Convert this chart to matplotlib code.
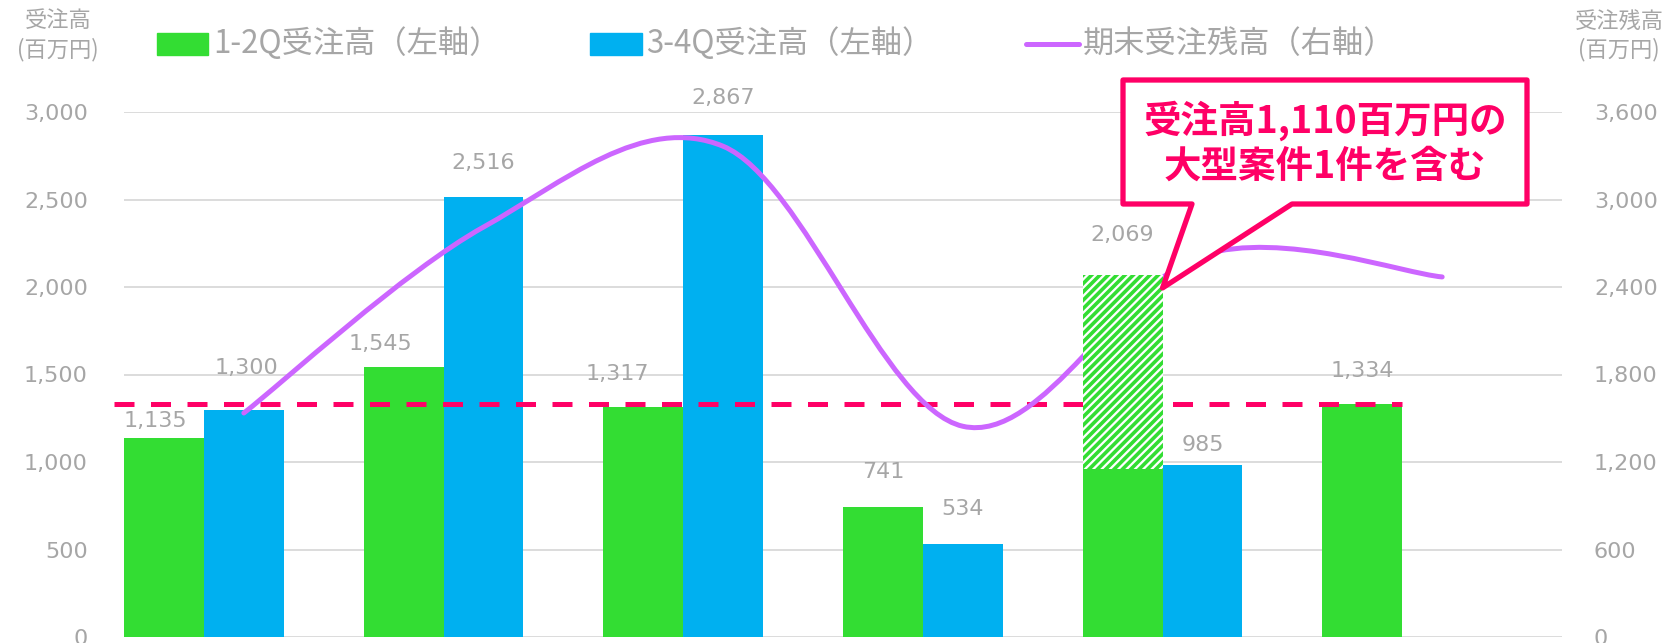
import numpy as np
import matplotlib
matplotlib.use('Agg')
import matplotlib.pyplot as plt
import matplotlib.ticker as mtick
from matplotlib.patches import Rectangle, Polygon, PathPatch
from matplotlib.path import Path
from matplotlib.lines import Line2D
from matplotlib.transforms import IdentityTransform

# data
orders_h1 = [1135, 1545, 1317, 741, 2069, 1334]      # 1-2Q受注高 (left axis)
orders_h2 = [1300, 2516, 2867, 534, 985, np.nan]     # 3-4Q受注高 (left axis)
backlog = [1536, 2811, 3365, 1445, 2619, 2469]       # 期末受注残高 (right axis)
big_order = [0, 0, 0, 0, 1110, 0]                    # large single order inside 1-2Q
left_ticks = [0, 500, 1000, 1500, 2000, 2500, 3000]
right_ticks = [0, 600, 1200, 1800, 2400, 3000, 3600]
legend_labels = ['1-2Q受注高（左軸）', '3-4Q受注高（左軸）', '期末受注残高（右軸）']
note = '受注高1,110百万円の\n大型案件1件を含む'

# label nudges in pixels (dx, dy above bar top)
h1_lbl_off = [(-9, 17), (-23, 23), (-26, 33), (0, 35), (0, 40), (0, 33)]
h2_lbl_off = [(3, 41), (0, 34), (0, 37), (0, 35), (0, 20)]

GREEN = '#33DD33'
BLUE = '#00B0F0'
PURPLE = '#CC66FF'
PINK = '#FF0066'
GRAY = '#A6A6A6'
GRID = '#D9D9D9'
CJK = ['Noto Sans CJK JP', 'DejaVu Sans']

plt.rcParams['font.family'] = ['DejaVu Sans']
plt.rcParams['hatch.linewidth'] = 2.6

W, H = 1672, 643
fig = plt.figure(figsize=(W / 100, H / 100), dpi=100)
ax = fig.add_axes([124 / W, 1 - 637 / H, (1562 - 124) / W, (637 - 112) / H])
ax2 = ax.twinx()

x = np.arange(len(orders_h1))
bw = 1 / 3
solid = np.array(orders_h1) - np.array(big_order)

ax.bar(x - bw / 2, solid, bw, color=GREEN, zorder=2)
ax.bar(x + bw / 2, orders_h2, bw, color=BLUE, zorder=2)

ax.set_xlim(-1 / 3, 6 - 1 / 3)
ax.set_ylim(0, 3000)
ax2.set_ylim(0, 3600)
ax.set_yticks(left_ticks)
ax2.set_yticks(right_ticks)
ax.set_xticks([])
fmt = mtick.StrMethodFormatter('{x:,.0f}')
ax.yaxis.set_major_formatter(fmt)
ax2.yaxis.set_major_formatter(fmt)
ax.tick_params(axis='y', length=0, pad=26, labelsize=16, labelcolor=GRAY)
ax2.tick_params(axis='y', length=0, pad=23, labelsize=16, labelcolor=GRAY)
ax.grid(axis='y', color=GRID, linewidth=1.3, zorder=0)
ax.set_axisbelow(True)
for a in (ax, ax2):
    for s in a.spines.values():
        s.set_visible(False)

# reference level = latest 1-2Q orders
ax.plot([ax.get_xlim()[0] - 0.04, len(x) - 1], [orders_h1[-1]] * 2, color=PINK,
        lw=3.6, dashes=(4, 3.3), zorder=3, clip_on=False)

# smoothed backlog line (Catmull-Rom as cubic bezier)
px = x + bw / 2
pts = np.column_stack([px, backlog])
ext = np.vstack([pts[0], pts, pts[-1]])
verts = [tuple(pts[0])]
codes = [Path.MOVETO]
for i in range(len(pts) - 1):
    p0, p1, p2, p3 = ext[i], ext[i + 1], ext[i + 2], ext[i + 3]
    verts += [tuple(p1 + (p2 - p0) / 6), tuple(p2 - (p3 - p1) / 6), tuple(p2)]
    codes += [Path.CURVE4] * 3
ax2.add_patch(PathPatch(Path(verts, codes), facecolor='none', edgecolor=PURPLE,
                        lw=3.6, capstyle='round', zorder=3))

# hatched part of the bar (drawn above the line)
for i, b in enumerate(big_order):
    if b > 0:
        ax2.add_patch(Rectangle((x[i] - bw, solid[i]), bw, b, transform=ax.transData,
                                facecolor='white', edgecolor=GREEN, hatch='////',
                                lw=0, zorder=5))

# data labels
for i, v in enumerate(orders_h1):
    dx, dy = h1_lbl_off[i]
    ax2.annotate(f'{v:,}', (x[i] - bw / 2, v), xycoords=ax.transData,
                 xytext=(dx * 0.72, dy * 0.72), textcoords='offset points',
                 ha='center', va='center', fontsize=16, color=GRAY, zorder=6)
for i, v in enumerate(orders_h2):
    if np.isnan(v):
        continue
    dx, dy = h2_lbl_off[i]
    ax2.annotate(f'{v:,.0f}', (x[i] + bw / 2, v), xycoords=ax.transData,
                 xytext=(dx * 0.72, dy * 0.72), textcoords='offset points',
                 ha='center', va='center', fontsize=16, color=GRAY, zorder=6)

# axis titles
fig.text(58 / W, 1 - 35.5 / H, '受注高\n(百万円)', ha='center', va='center',
         fontsize=16, color=GRAY, family=CJK, linespacing=1.3)
fig.text(1619 / W, 1 - 35.5 / H, '受注残高\n(百万円)', ha='center', va='center',
         fontsize=16, color=GRAY, family=CJK, linespacing=1.3)

# legend
ly = 1 - 44 / H
fig.patches.append(Rectangle((157 / W, 1 - 55 / H), 51 / W, 22 / H, color=GREEN,
                             transform=fig.transFigure, figure=fig))
fig.patches.append(Rectangle((590 / W, 1 - 55 / H), 52 / W, 22 / H, color=BLUE,
                             transform=fig.transFigure, figure=fig))
fig.lines.append(Line2D([1026 / W, 1079 / W], [ly, ly], color=PURPLE, lw=3.6,
                        solid_capstyle='round', transform=fig.transFigure, figure=fig))
for tx, lab in zip([213, 646, 1083], legend_labels):
    fig.text(tx / W, ly, lab, ha='left', va='center', fontsize=22.5, color=GRAY, family=CJK)

# callout
fig.canvas.draw()
tip = ax.transData.transform((x[4], orders_h1[4])) - np.array([0, 13])
box = [(1123, 80), (1527, 80), (1527, 204), (1292, 204)]
base_l = (1192, 204)
poly = [(bx, H - by) for bx, by in box] + [tuple(tip), (base_l[0], H - base_l[1]),
                                           (1123, H - 204)]
fig.patches.append(Polygon(poly, closed=True, facecolor='white', edgecolor=PINK, lw=3.8,
                           joinstyle='round', transform=IdentityTransform(), figure=fig,
                           zorder=10))
fig.text(1325 / W, 1 - 143 / H, note, ha='center', va='center', fontsize=27,
         fontweight='bold', color=PINK, family=CJK, linespacing=1.2, zorder=11)

fig.savefig('out.png', dpi=100)
